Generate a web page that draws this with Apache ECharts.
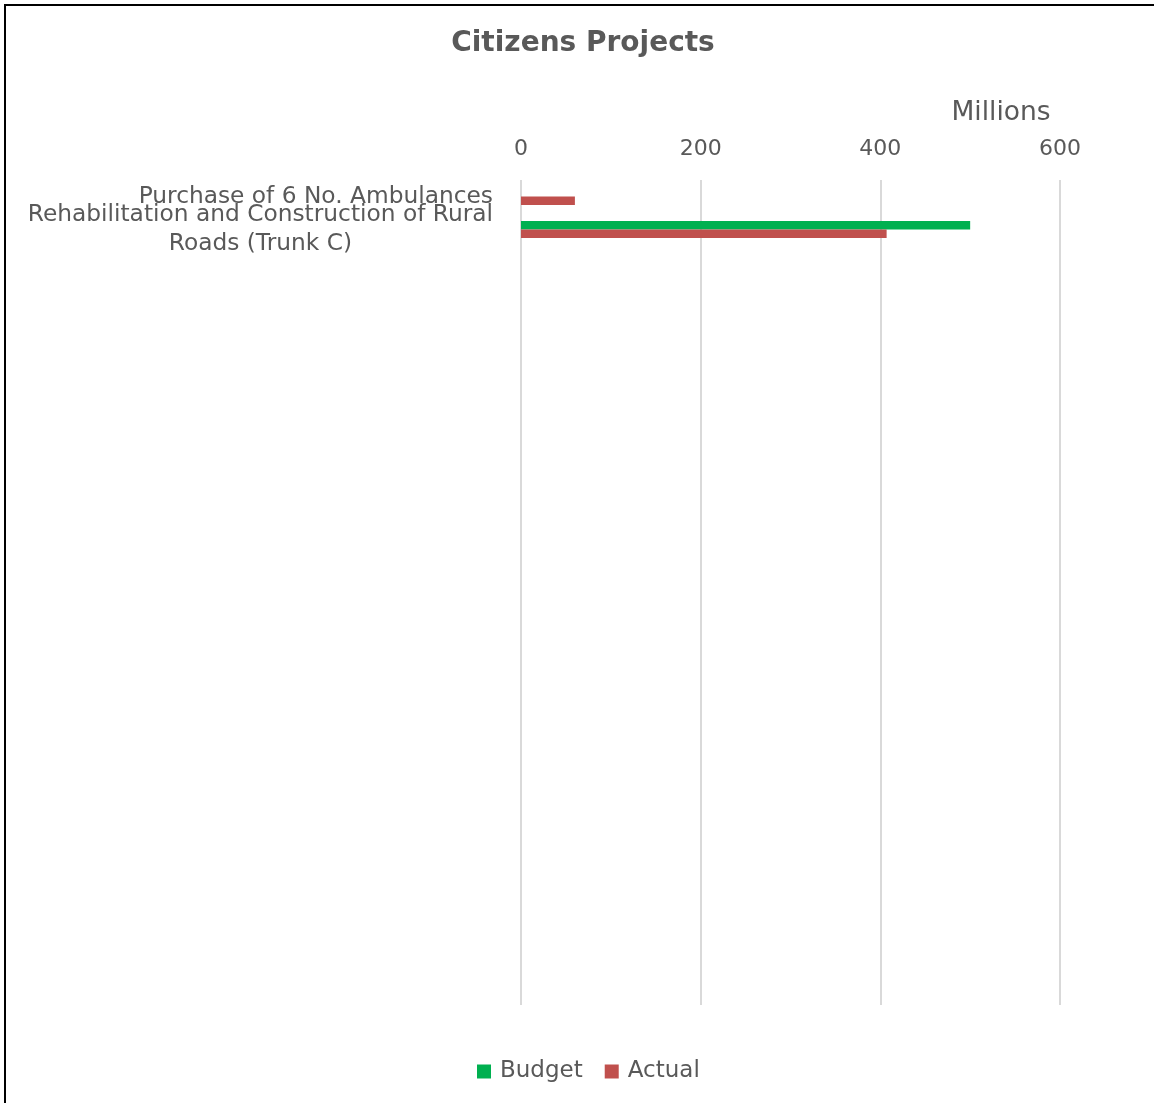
<!DOCTYPE html>
<html>
<head>
<meta charset="utf-8">
<script src="https://cdn.jsdelivr.net/npm/echarts@6/dist/echarts.min.js"></script>
<style>
  html, body { margin: 0; padding: 0; background: #fff; }
  #chart { width: 1154px; height: 1103px; }
</style>
</head>
<body>
<div id="chart"></div>
<script>
  // 项目名称 (Excel 图表里其余类别为空行)
  const projects = [
    'Purchase of 6 No. Ambulances',
    'Rehabilitation and Construction of Rural\nRoads (Trunk C)'
  ];
  const blankRows = 23;
  const categories = projects.concat(new Array(blankRows).fill(''));
  const budget = [0, 500];
  const actual = [60, 407];
  const xTicks = [0, 200, 400, 600];

  const textColor = '#595959';
  const font = '"DejaVu Sans", "Open Sans", sans-serif';

  const chart = echarts.init(document.getElementById('chart'));
  const option = {
    backgroundColor: '#fff',
    textStyle: { fontFamily: font },
    title: [{
      text: 'Citizens Projects',
      left: 578,
      top: 25,
      textAlign: 'center',
      textStyle: { fontSize: 28, fontWeight: 'bold', color: textColor, fontFamily: font }
    }, {
      text: 'Millions',
      left: 996,
      top: 95,
      textAlign: 'center',
      textStyle: { fontSize: 26.5, fontWeight: 'normal', color: textColor, fontFamily: font }
    }],
    graphic: [{
      type: 'rect',
      shape: { x: 5, y: 5, width: 1300, height: 1300 },
      style: { fill: 'none', stroke: '#000', lineWidth: 2 },
      silent: true
    }],
    legend: {
      data: ['Budget', 'Actual'],
      left: 472,
      top: 1055,
      itemWidth: 14,
      itemHeight: 14,
      itemGap: 22,
      icon: 'rect',
      textStyle: { fontSize: 23, color: textColor, fontFamily: font, padding: [0, 0, 0, 4] }
    },
    grid: {
      left: 521,
      right: 94,
      top: 180,
      bottom: 98,
      containLabel: false,
      outerBoundsMode: 'none'
    },
    xAxis: {
      type: 'value',
      position: 'top',
      min: xTicks[0],
      max: xTicks[xTicks.length - 1],
      interval: 200,
      axisLine: { show: false },
      axisTick: { show: false },
      axisLabel: { fontSize: 22, color: textColor, margin: 20, fontFamily: font },
      splitLine: { show: true, lineStyle: { color: '#d9d9d9', width: 2 } }
    },
    yAxis: {
      type: 'category',
      inverse: true,
      data: categories,
      axisLine: { show: false },
      axisTick: { show: false },
      axisLabel: {
        interval: 0,
        margin: 28,
        fontSize: 23.3,
        lineHeight: 29,
        color: textColor,
        fontFamily: font,
        formatter: function (val) {
          if (!val) return '';
          return val.split('\n').map(s => '{c|' + s + '}').join('\n');
        },
        rich: {
          c: { align: 'center', fontSize: 23.3, lineHeight: 29, color: textColor, fontFamily: font }
        }
      }
    },
    series: [{
      name: 'Budget',
      type: 'bar',
      data: budget,
      barWidth: 8.5,
      barGap: '0%',
      itemStyle: { color: '#00B050' }
    }, {
      name: 'Actual',
      type: 'bar',
      data: actual,
      barWidth: 8.5,
      barGap: '0%',
      itemStyle: { color: '#C0504D' }
    }]
  };
  chart.setOption(option);
</script>
</body>
</html>
